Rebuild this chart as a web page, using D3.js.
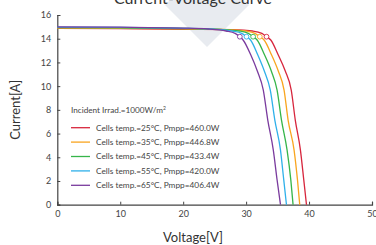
<!DOCTYPE html>
<html>
<head>
<meta charset="utf-8">
<script src="https://cdn.jsdelivr.net/npm/d3@7"></script>
<style>
  html, body { margin: 0; padding: 0; background: #fff; }
  svg { display: block; font-family: Lato, "Open Sans", sans-serif; }
</style>
</head>
<body>
<svg width="376" height="245"></svg>
<script>
// ---- data ----
const seriesNames = ["Cells temp.=25°C, Pmpp=460.0W", "Cells temp.=35°C, Pmpp=446.8W",
  "Cells temp.=45°C, Pmpp=433.4W", "Cells temp.=55°C, Pmpp=420.0W", "Cells temp.=65°C, Pmpp=406.4W"];
const seriesColors = ["#d7263d", "#f9a51f", "#36b54a", "#2fb0ea", "#7a3b9e"];

// voltage points [V] for each curve, current [A] below
const voltage25 = [0, 10, 20, 28, 31.0, 32.5, 33.24, 33.92, 35.11, 36.22, 37.17, 37.81, 38.63, 39.16, 39.59];
const current25 = [14.87, 14.85, 14.8, 14.76, 14.65, 14.45, 14.17, 13.89, 12.62, 11.27, 9.67, 7.14, 4.61, 2.09, 0];
const voltage35 = [0, 10, 20, 27, 29.9, 31.4, 32.17, 32.86, 34.05, 35.11, 36.03, 36.67, 37.62, 38.16, 38.52];
const current35 = [14.9, 14.88, 14.83, 14.77, 14.65, 14.45, 14.17, 13.89, 12.62, 11.27, 9.67, 7.14, 4.61, 2.09, 0];
const voltage45 = [0, 10, 20, 26, 28.9, 30.35, 31.11, 31.75, 32.94, 34.0, 34.92, 35.62, 36.51, 37.1, 37.46];
const current45 = [14.93, 14.91, 14.86, 14.78, 14.65, 14.45, 14.17, 13.89, 12.62, 11.27, 9.67, 7.14, 4.61, 2.09, 0];
const voltage55 = [0, 10, 20, 25, 27.8, 29.3, 30.06, 30.7, 31.86, 32.89, 33.84, 34.56, 35.46, 35.98, 36.41];
const current55 = [14.97, 14.95, 14.88, 14.8, 14.65, 14.45, 14.17, 13.89, 12.62, 11.27, 9.67, 7.14, 4.61, 2.09, 0];
const voltage65 = [0, 10, 20, 24, 26.8, 28.25, 29.0, 29.52, 30.75, 31.78, 32.73, 33.44, 34.32, 34.92, 35.46];
const current65 = [15.0, 14.97, 14.9, 14.82, 14.65, 14.45, 14.17, 13.89, 12.62, 11.27, 9.67, 7.14, 4.61, 2.09, 0];

// maximum power points
const mppVoltage = [33.24, 32.17, 31.11, 30.06, 29.0];
const mppCurrent = [14.17, 14.17, 14.17, 14.17, 14.17];

const xTicks = [0, 10, 20, 30, 40, 50];
const yTicks = [0, 2, 4, 6, 8, 10, 12, 14, 16];

const voltages = [voltage25, voltage35, voltage45, voltage55, voltage65];
const currents = [current25, current35, current45, current55, current65];

// ---- chart ----
const svg = d3.select("svg");
const mLeft = 57.3, mRight = 372, mTop = 15, mBottom = 204.7;

const x = d3.scaleLinear().domain([0, 50]).range([mLeft, mRight]);
const y = d3.scaleLinear().domain([0, 16]).range([mBottom, mTop]);

// grey diamond watermark behind the title
svg.append("polygon")
  .attr("points", "165,5 207,-37 249,5 207,47")
  .attr("fill", "#e8ebf0");

svg.append("text")
  .attr("x", 193).attr("y", 4)
  .attr("text-anchor", "middle")
  .style("font-size", "16px")
  .style("fill", "#333")
  .text("Current-Voltage Curve");

// axes
const xAxis = svg.append("g")
  .attr("transform", `translate(0,${mBottom})`)
  .call(d3.axisBottom(x).tickValues(xTicks).tickSize(-3).tickPadding(6));
const yAxis = svg.append("g")
  .attr("transform", `translate(${mLeft},0)`)
  .call(d3.axisLeft(y).tickValues(yTicks).tickSize(-3).tickPadding(6));

[xAxis, yAxis].forEach(g => {
  g.select(".domain").attr("stroke", "#444").attr("stroke-width", 1.2);
  g.selectAll(".tick line").attr("stroke", "#444");
  g.selectAll(".tick text").style("font-size", "9px").style("fill", "#444")
    .style("font-family", "Lato, sans-serif");
});

svg.append("text")
  .attr("x", 193).attr("y", 242)
  .attr("text-anchor", "middle")
  .style("font-size", "13px").style("fill", "#333")
  .text("Voltage[V]");

svg.append("text")
  .attr("transform", `translate(20,${(mTop + mBottom) / 2}) rotate(-90)`)
  .attr("text-anchor", "middle")
  .style("font-size", "13px").style("fill", "#333")
  .text("Current[A]");

// curves (coolest drawn last so it sits on top, like the original)
const line = d3.line()
  .x(d => x(d[0]))
  .y(d => y(d[1]))
  .curve(d3.curveMonotoneX);

for (let i = 0; i < 5; i++) {
  const pts = voltages[i].map((v, j) => [v, currents[i][j]]);
  svg.append("path")
    .datum(pts)
    .attr("d", line)
    .attr("fill", "none")
    .attr("stroke", seriesColors[i])
    .attr("stroke-width", 1.3);
}

svg.selectAll(".mpp")
  .data(mppVoltage)
  .enter().append("circle")
  .attr("class", "mpp")
  .attr("cx", d => x(d))
  .attr("cy", (d, i) => y(mppCurrent[i]))
  .attr("r", 2.4)
  .attr("fill", "#fff")
  .attr("stroke", (d, i) => seriesColors[i])
  .attr("stroke-width", 0.9);

// legend
svg.append("text")
  .attr("x", 71).attr("y", 113)
  .style("font-size", "8.2px").style("fill", "#444")
  .html("Incident Irrad.=1000W/m<tspan dy='-3.5' style='font-size:5px'>2</tspan>");

const legend = svg.selectAll(".legend")
  .data(seriesNames)
  .enter().append("g")
  .attr("class", "legend")
  .attr("transform", (d, i) => `translate(71,${127.7 + i * 14.4})`);

legend.append("line")
  .attr("x1", 0).attr("x2", 19)
  .attr("stroke", (d, i) => seriesColors[i])
  .attr("stroke-width", 1.3);

legend.append("text")
  .attr("x", 25).attr("y", 2.8)
  .style("font-size", "8.3px").style("fill", "#444")
  .text(d => d);
</script>
</body>
</html>
